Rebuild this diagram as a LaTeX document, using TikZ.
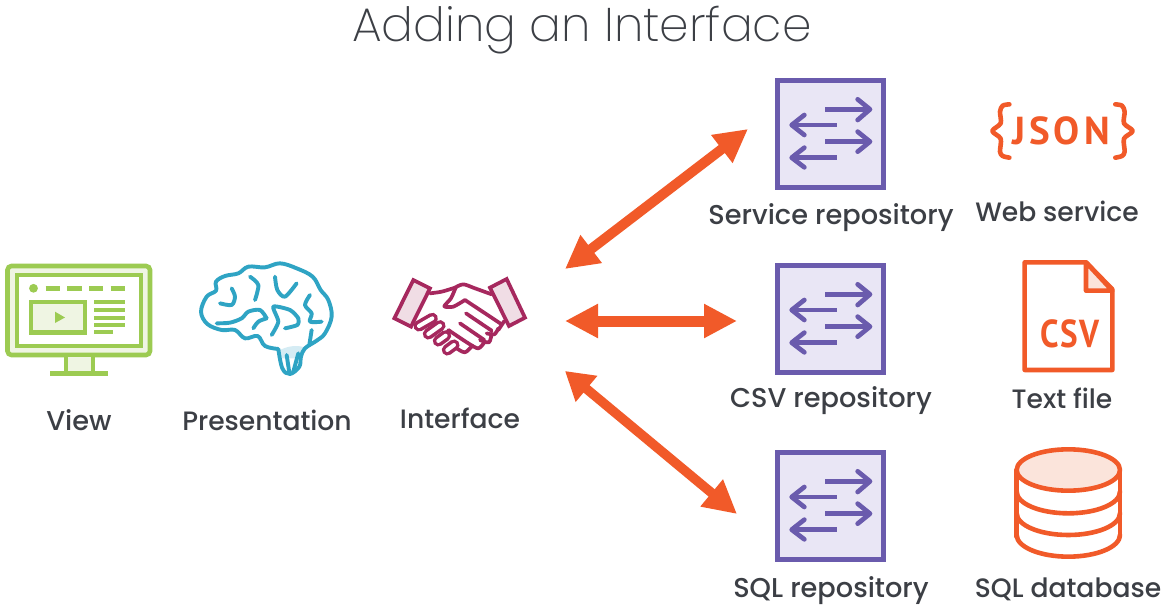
\documentclass[tikz,border=0pt]{standalone}
\usepackage{fontspec}
\setmainfont{Poppins Medium}
\newfontfamily\titlefont{Poppins ExtraLight}
\newfontfamily\iconfont{PT Sans}[BoldFont={* Bold}]
\usetikzlibrary{arrows.meta}
\definecolor{orangeA}{HTML}{F15A29}
\definecolor{orangeL}{HTML}{FBE4DB}
\definecolor{greenA}{HTML}{9CCB52}
\definecolor{greenL}{HTML}{EFF5E3}
\definecolor{blueA}{HTML}{2FA4C4}
\definecolor{blueL}{HTML}{D5ECF4}
\definecolor{plumA}{HTML}{A6285E}
\definecolor{plumL}{HTML}{F0DDE5}
\definecolor{purpA}{HTML}{6A5BAD}
\definecolor{purpL}{HTML}{E9E6F5}
\definecolor{inkA}{HTML}{3C3F45}
\tikzset{
  lbl/.style={font=\fontsize{27.2}{30}\selectfont, text=inkA, inner sep=0pt, anchor=base},
  lblsmall/.style={lbl, font=\fontsize{26.6}{30}\selectfont},
  ttl/.style={font=\titlefont\fontsize{47.2}{50}\selectfont, text=inkA, inner sep=0pt, anchor=base},
  icontxt/.style={font=\iconfont\bfseries\fontsize{39}{40}\selectfont, text=orangeA, inner sep=0pt},
  biarrow/.style={draw=orangeA, line width=#1},
  zoomed/.style={x=0.3333pt,y=-0.3333pt,line cap=round,line join=round},
}
\newcommand{\repoicon}[3]{%
 \begin{scope}[shift={(#1,#2)},zoomed]
  \node[minimum size=0pt,inner sep=0pt] (#3) at (195,192) {};
  \draw[purpA,fill=purpL,line width=4.6pt,line join=miter] (37,31) rectangle (356,353);
  \draw[purpA,line width=4.7pt,line cap=butt] (180,118)--(310,118) (215,165)--(85,165) (180,215)--(310,215) (215,263)--(85,263);
  \draw[purpA,line width=4.7pt] (278,88)--(315,118)--(278,150) (118,135)--(80,165)--(118,195) (278,185)--(315,215)--(278,245) (118,233)--(80,263)--(118,292);
 \end{scope}}
\begin{document}
\begin{tikzpicture}[x=1pt,y=-1pt]
\useasboundingbox (0,0) rectangle (1167,605);
\fill[white] (0,0) rectangle (1167,605);
\node[ttl] (title) at (582,41) {Adding an Interface};
% monitor
\draw[greenA,fill=greenL,line width=4.6pt,rounded corners=4pt] (7.5,266) rectangle (150,355);
\draw[greenA,fill=white,line width=4.6pt] (17,275) rectangle (141,346);
\draw[greenA,fill=greenL,line width=4.6pt] (66,355) rectangle (93,373.5);
\draw[greenA,line width=4.6pt] (50,373.5)--(108,373.5);
\fill[greenA] (33.5,288.3) circle (4.4);
\draw[greenA,line width=4.4pt] (45.7,288.3)--(60,288.3) (67.3,288.3)--(81.7,288.3) (89,288.3)--(103,288.3) (110.7,288.3)--(125,288.3);
\draw[greenA,fill=greenL,line width=4.4pt] (31,302) rectangle (85,332.5);
\fill[greenA] (55,311.7)--(65,317.5)--(55,323)--cycle;
\draw[greenA,line width=4pt] (94.3,302.3)--(125,302.3) (94.3,310)--(125,310) (94.3,317.5)--(125,317.5) (94.3,325)--(125,325) (94.3,332.3)--(113,332.3);
\node[lbl] (view) at (79,430) {View};
% brain
\begin{scope}[shift={(190,250)},zoomed]
 \fill[blueL] (270,300) .. controls (300,285) and (330,285) .. (350,295) -- (332,325) -- (275,325) -- cycle;
 \draw[blueA,line width=3.9pt] plot[smooth,tension=0.6] coordinates {(265,297) (225,288) (203,258) (165,265) (135,240) (95,240) (52,222) (33,185) (50,140) (78,122) (78,95) (105,78) (145,70) (175,50) (225,52) (270,40) (320,55) (368,80) (392,120) (415,150) (425,200) (405,250) (380,272) (345,295) (333,320) (328,350) (300,372) (277,355) (265,297)};
 \draw[blueA,line width=3.9pt] plot[smooth,tension=0.5] coordinates {(125,115) (135,140) (125,165) (90,160)};
 \draw[blueA,line width=3.9pt] plot[smooth,tension=0.5] coordinates {(80,220) (120,218) (155,205) (175,185) (210,180) (230,205)};
 \draw[blueA,line width=3.9pt] plot[smooth,tension=0.5] coordinates {(230,205) (205,215) (190,235)};
 \draw[blueA,line width=3.9pt] plot[smooth,tension=0.5] coordinates {(180,80) (205,105) (195,150)};
 \draw[blueA,line width=3.9pt] plot[smooth,tension=0.5] coordinates {(255,80) (262,120) (285,140) (320,100)};
 \draw[blueA,line width=3.9pt] plot[smooth,tension=0.4] coordinates {(245,255) (265,215) (250,170) (300,180) (325,205) (322,225) (285,235)};
 \draw[blueA,line width=3.9pt] plot[smooth,tension=0.5] coordinates {(360,135) (345,165) (365,190) (360,215) (395,215)};
 \draw[blueA,line width=3.9pt] (365,240)--(358,285);
 \draw[blueA,line width=3.9pt] (290,315)--(298,368) (325,310)--(310,365);
\end{scope}
\node[lblsmall] (pres) at (267,430) {Presentation};
% handshake
\begin{scope}[shift={(385,265)},zoomed]
 \tikzset{finger/.style={draw=plumA,line width=3.6pt,double=white,double distance=4pt,line cap=round}}
 \draw[plumA,line width=3.7pt] plot[smooth,tension=0.5] coordinates {(135,85) (170,80) (210,68)};
 \draw[plumA,line width=3.7pt] plot[smooth,tension=0.5] coordinates {(210,68) (235,58) (270,70) (320,88)};
 \draw[plumA,line width=3.7pt] plot[smooth,tension=0.4] coordinates {(212,68) (198,100) (178,124) (205,125) (240,105)};
 \draw[plumA,line width=3.7pt] (240,105)--(350,178);
 \draw[plumA,line width=3.7pt] (358,168)--(340,195) (243,145)--(320,197) (225,175)--(298,225);
 \draw[plumA,line width=3.7pt] plot[smooth,tension=0.5] coordinates {(340,190) (328,208) (305,205)};
 \draw[plumA,line width=3.7pt] plot[smooth,tension=0.5] coordinates {(320,205) (312,232) (285,225)};
 \draw[plumA,line width=3.7pt] plot[smooth,tension=0.5] coordinates {(298,232) (280,250) (250,235) (190,195)};
 \draw[plumA,line width=3.7pt] plot[smooth,tension=0.5] coordinates {(262,242) (240,262) (215,250)};
 \path[finger] (187,255)--(207,240);
 \path[finger] (160,228)--(182,212);
 \path[finger] (130,207)--(165,182);
 \path[finger] (102,183)--(142,160);
 \draw[plumA,fill=plumL,line width=3.7pt,line join=miter] (85,45)--(135,70)--(78,185)--(28,160)--cycle;
 \draw[plumA,fill=plumL,line width=3.7pt,line join=miter] (315,68)--(365,42)--(420,158)--(372,183)--cycle;
\end{scope}
\node[lblsmall] (iface) at (460,428) {Interface};
% repositories
\repoicon{765}{70}{repoA}
\repoicon{765}{255}{repoB}
\repoicon{765}{442}{repoC}
\node[lbl] (lrA) at (831,224) {Service repository};
\node[lbl] (lrB) at (831,407) {CSV repository};
\node[lbl] (lrC) at (831,597) {SQL repository};
% JSON
\begin{scope}[shift={(980,90)},zoomed]
 \draw[orangeA,line width=4.6pt] plot[smooth,tension=0.5] coordinates {(88,43) (68,47) (60,65) (62,100) (37,123) (62,146) (60,185) (68,198) (88,203)};
 \draw[orangeA,line width=4.6pt] plot[smooth,tension=0.5] coordinates {(406,43) (426,47) (434,65) (432,100) (458,123) (432,146) (434,185) (426,198) (406,203)};
 \node[icontxt] (json) at (243,122) {J\kern4pt S\kern4pt O\kern4pt N};
\end{scope}
\node[lblsmall] (web) at (1057,221) {Web service};
% CSV file
\begin{scope}[shift={(1010,250)},zoomed]
 \draw[orangeA,fill=white,line width=4.6pt] (44,37)--(228,37)--(307,118)--(307,360)--(44,360)--cycle;
 \draw[orangeA,fill=orangeL,line width=4.6pt] (228,37)--(228,122)--(307,122)--cycle;
 \node[icontxt,xscale=0.85] (csv) at (180,253) {C\kern1.5pt S\kern1.5pt V};
\end{scope}
\node[lblsmall] (txt) at (1062,408) {Text file};
% database
\begin{scope}[shift={(1005,440)},zoomed]
 \draw[orangeA,line width=4.6pt] (35,90)--(35,290) (345,90)--(345,290);
 \draw[orangeA,line width=4.6pt] (35,155) arc[start angle=180,end angle=360,x radius=155,y radius=-65];
 \draw[orangeA,line width=4.6pt] (35,220) arc[start angle=180,end angle=360,x radius=155,y radius=-65];
 \draw[orangeA,line width=4.6pt] (35,285) arc[start angle=180,end angle=360,x radius=155,y radius=-65];
 \draw[orangeA,fill=orangeL,line width=4.6pt] (190,90) ellipse[x radius=155,y radius=62];
\end{scope}
\node[lblsmall] (db) at (1068,597) {SQL database};
% connectors
\coordinate (hubA) at (565,269);
\coordinate (hubB) at (565,321);
\coordinate (hubC) at (565,371);
\coordinate (endA) at (748,129);
\coordinate (endB) at (737,321);
\coordinate (endC) at (737,514);
\draw[biarrow=10pt,{Triangle[length=33pt,width=33pt]}-{Triangle[length=33pt,width=33pt]}] (hubA)--(endA);
\draw[biarrow=11pt,{Triangle[length=33pt,width=32pt]}-{Triangle[length=33pt,width=32pt]}] (hubB)--(endB);
\draw[biarrow=9.5pt,{Triangle[length=28pt,width=32pt]}-{Triangle[length=33pt,width=33pt]}] (hubC)--(endC);
\end{tikzpicture}
\end{document}
